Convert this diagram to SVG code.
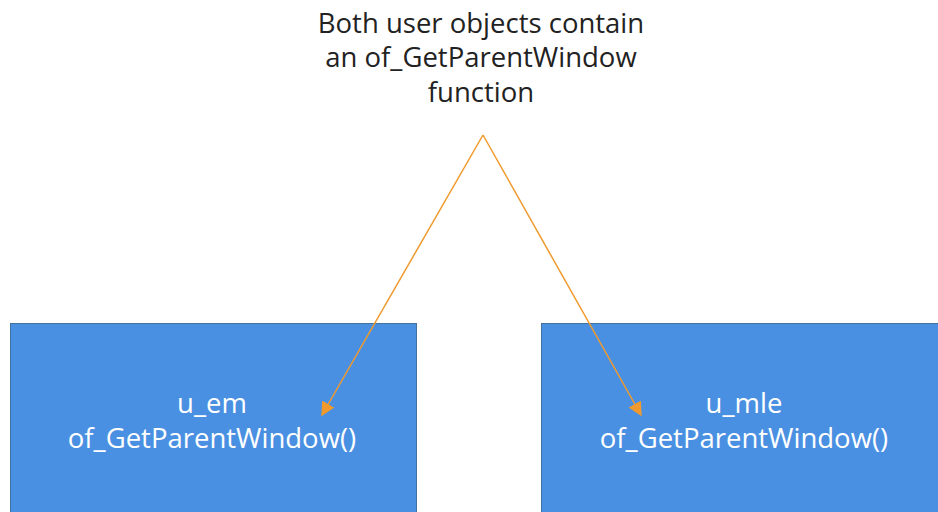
<svg xmlns="http://www.w3.org/2000/svg" width="938" height="512" viewBox="0 0 938 512">
<style>
.box{fill:#4A90E2;stroke:#41719C;stroke-width:1}
.bt{font-family:"Open Sans","Noto Sans",sans-serif;font-size:27.5px;fill:#ffffff;text-anchor:middle}
.lt{font-family:"Open Sans","Noto Sans",sans-serif;font-size:27.5px;fill:#222222;text-anchor:middle}
.con{stroke:#F09A2E;stroke-width:1.5;fill:none}
</style>
<defs>
<marker id="ah" viewBox="0 0 10 10" refX="9" refY="5" markerWidth="14" markerHeight="14" markerUnits="userSpaceOnUse" orient="auto">
<path d="M0,0 L10,5 L0,10 z" fill="#F09A2E"/>
</marker>
</defs>
<rect width="938" height="512" fill="#ffffff"/>
<g id="note">
<text class="lt" x="481" y="33">Both user objects contain</text>
<text class="lt" x="481" y="67">an of_GetParentWindow</text>
<text class="lt" x="481" y="102">function</text>
</g>
<g id="u_em">
<rect class="box" x="10.5" y="323.5" width="406" height="200"/>
<text class="bt" x="212" y="413">u_em</text>
<text class="bt" x="212" y="448">of_GetParentWindow()</text>
</g>
<g id="u_mle">
<rect class="box" x="541.5" y="323.5" width="410" height="200"/>
<text class="bt" x="744" y="413">u_mle</text>
<text class="bt" x="744" y="448">of_GetParentWindow()</text>
</g>
<g id="connectors">
<path class="con" d="M483,135 L322,415" marker-end="url(#ah)"/>
<path class="con" d="M483,135 L641,415" marker-end="url(#ah)"/>
</g>
</svg>
